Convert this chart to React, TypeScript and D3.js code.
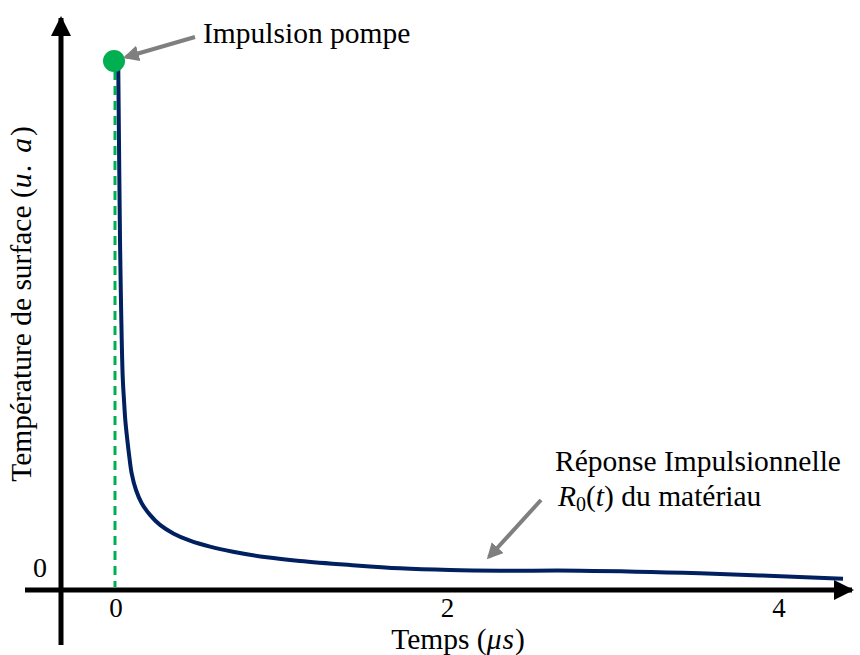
import React from "react";
import * as d3 from "d3";

const times: number[] = [0.0181, 0.0199, 0.0302, 0.0465, 0.0543, 0.0621, 0.0742, 0.0863, 0.1008, 0.1267, 0.1611, 0.2112, 0.2715, 0.3517, 0.4525, 0.5732, 0.7119, 0.9152, 1.1161, 1.4178, 1.7195, 2.0211, 2.3228, 2.8054, 3.5294, 4.3922];
const temps: number[] = [0.998, 0.983, 0.662, 0.403, 0.359, 0.321, 0.284, 0.252, 0.22, 0.189, 0.164, 0.142, 0.123, 0.107, 0.0932, 0.0819, 0.0724, 0.0618, 0.0548, 0.0473, 0.041, 0.0378, 0.0365, 0.0365, 0.0316, 0.0214];
const xTicks: number[] = [0, 2, 4];
const pulseTime = 0;
const pulseValue = 1;

const W = 860;
const H = 655;
const FONT = "'Liberation Serif', 'Times New Roman', serif";
const FS = 29.5;

export default function App() {
  const x = d3.scaleLinear().domain([0, 4]).range([115, 778]);
  const y = d3.scaleLinear().domain([0, 1]).range([590, 61]);
  const pts: [number, number][] = times.map((t, i) => [t, temps[i]]);
  const curve = d3
    .line<[number, number]>()
    .x((d) => x(d[0]))
    .y((d) => y(d[1]))
    .curve(d3.curveCatmullRom.alpha(0.5));
  const axisY = y(0);
  const axisX = 61;
  return (
    <svg width={W} height={H} style={{ position: "absolute", left: 0, top: 0, background: "#fff" }}>
      <defs>
        <marker id="blackHead" viewBox="0 0 10 10" refX="9" refY="5" markerWidth="4" markerHeight="4" orient="auto" markerUnits="strokeWidth">
          <path d="M0,0 L10,5 L0,10 z" fill="#000" />
        </marker>
        <marker id="grayHead" viewBox="0 0 10 10" refX="8" refY="5" markerWidth="4" markerHeight="4" orient="auto" markerUnits="strokeWidth">
          <path d="M0,0 L10,5 L0,10 z" fill="#7f7f7f" />
        </marker>
      </defs>
      {/* axes */}
      <line x1={25} y1={axisY} x2={852} y2={axisY} stroke="#000" strokeWidth={5} markerEnd="url(#blackHead)" />
      <line x1={axisX} y1={645} x2={axisX} y2={18} stroke="#000" strokeWidth={5} markerEnd="url(#blackHead)" />
      {/* dashed pulse line */}
      <line x1={x(pulseTime)} y1={y(pulseValue) + 10} x2={x(pulseTime)} y2={axisY - 3} stroke="#00b050" strokeWidth={3} strokeDasharray="9,6" />
      {/* response curve */}
      <path d={curve(pts) || ""} fill="none" stroke="#002060" strokeWidth={4} />
      {/* pulse dot */}
      <circle cx={x(pulseTime) - 1} cy={y(pulseValue)} r={11} fill="#00b050" />
      {/* tick labels */}
      {xTicks.map((t) => (
        <text key={t} x={x(t) + 1} y={617} textAnchor="middle" fontFamily={FONT} fontSize={27} fill="#000">
          {t}
        </text>
      ))}
      <text x={40} y={577} textAnchor="middle" fontFamily={FONT} fontSize={28} fill="#000">0</text>
      {/* axis titles */}
      <text x={458} y={649} textAnchor="middle" fontFamily={FONT} fontSize={FS} fill="#000">
        Temps (<tspan fontStyle="italic" letterSpacing={1}>μs</tspan>)
      </text>
      <text transform="translate(31,304) rotate(-90)" textAnchor="middle" fontFamily={FONT} fontSize={FS} fill="#000">
        Température de surface (<tspan fontStyle="italic" letterSpacing={2}>u. a</tspan>)
      </text>
      {/* annotations */}
      <line x1={195} y1={37} x2={126} y2={57} stroke="#7f7f7f" strokeWidth={4} markerEnd="url(#grayHead)" />
      <text x={203} y={43} fontFamily={FONT} fontSize={FS} fill="#000">Impulsion pompe</text>
      <line x1={541} y1={500} x2={489} y2={557} stroke="#7f7f7f" strokeWidth={4} markerEnd="url(#grayHead)" />
      <text x={555} y={471} fontFamily={FONT} fontSize={FS} fill="#000">Réponse Impulsionnelle</text>
      <text x={558} y={506} fontFamily={FONT} fontSize={FS} fill="#000">
        <tspan fontStyle="italic">R</tspan>
        <tspan fontSize={20} dy={5}>0</tspan>
        <tspan dy={-5}>(</tspan>
        <tspan fontStyle="italic">t</tspan>
        <tspan>) du matériau</tspan>
      </text>
    </svg>
  );
}
